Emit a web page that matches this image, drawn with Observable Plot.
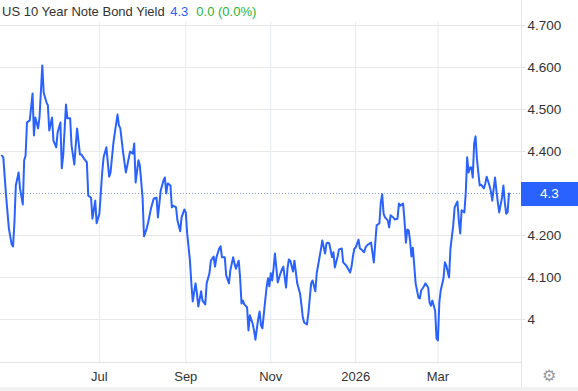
<!DOCTYPE html>
<html>
<head>
<meta charset="utf-8">
<script src="https://cdn.jsdelivr.net/npm/d3@7"></script>
<script src="https://cdn.jsdelivr.net/npm/@observablehq/plot@0.6"></script>
<style>
  html, body { margin: 0; padding: 0; background: #fff; }
  #wrap { position: relative; width: 578px; height: 391px; overflow: hidden; font-family: "Liberation Sans", Arial, Helvetica, sans-serif; }
  #title { position: absolute; left: 2px; top: 4px; font-size: 13px; line-height: 16px; color: #333; white-space: nowrap; z-index: 2; }
  #title .last { color: #2962ff; margin-left: 2px; }
  #title .chg { color: #27b533; margin-left: 8px; }
  #vsep { position: absolute; left: 521px; top: 0; width: 1px; height: 387px; background: #e6e6e6; }
  #band { position: absolute; left: 0; top: 387px; width: 578px; height: 4px; background: #f2f2f2; }
  #badge { position: absolute; left: 521px; width: 57px; height: 24px; background: #2962ff; color: #fff; font-size: 13.5px; line-height: 24px; text-align: center; }
  #gear { position: absolute; left: 542px; top: 366px; font-family: "DejaVu Sans", sans-serif; font-size: 16px; color: #9a9a9a; }
  svg { overflow: visible; }
</style>
</head>
<body>
<div id="wrap">
  <div id="chart"></div>
  <div id="vsep"></div>
  <div id="band"></div>
  <div id="title"></div>
  <div id="badge"></div>
  <div id="gear">⚙</div>
</div>
<script>
const seriesName = "US 10 Year Note Bond Yield";
const lastLabel = "4.3";
const changeLabel = "0.0 (0.0%)";

const dates = [
"2025-04-22","2025-04-23","2025-04-25","2025-04-27","2025-04-29","2025-04-30","2025-05-01","2025-05-02","2025-05-04","2025-05-05",
"2025-05-07","2025-05-08","2025-05-09","2025-05-10","2025-05-12","2025-05-14","2025-05-15","2025-05-16","2025-05-18","2025-05-19",
"2025-05-21","2025-05-22","2025-05-24","2025-05-25","2025-05-26","2025-05-28","2025-05-29","2025-05-31","2025-06-01","2025-06-03",
"2025-06-04","2025-06-05","2025-06-07","2025-06-08","2025-06-10","2025-06-11","2025-06-13","2025-06-14","2025-06-15","2025-06-17",
"2025-06-18","2025-06-20","2025-06-22","2025-06-23","2025-06-25","2025-06-26","2025-06-28","2025-06-29","2025-07-01","2025-07-03",
"2025-07-04","2025-07-06","2025-07-08","2025-07-09","2025-07-11","2025-07-12","2025-07-14","2025-07-15","2025-07-16","2025-07-18",
"2025-07-20","2025-07-22","2025-07-23","2025-07-25","2025-07-26","2025-07-27","2025-07-29","2025-07-30","2025-08-01","2025-08-02",
"2025-08-04","2025-08-05","2025-08-07","2025-08-09","2025-08-11","2025-08-12","2025-08-14","2025-08-16","2025-08-17","2025-08-18",
"2025-08-19","2025-08-21","2025-08-22","2025-08-23","2025-08-25","2025-08-26","2025-08-28","2025-08-29","2025-08-31","2025-09-01",
"2025-09-02","2025-09-04","2025-09-05","2025-09-06","2025-09-08","2025-09-09","2025-09-10","2025-09-12","2025-09-13","2025-09-15",
"2025-09-16","2025-09-18","2025-09-19","2025-09-21","2025-09-22","2025-09-23","2025-09-25","2025-09-26","2025-09-27","2025-09-29",
"2025-09-30","2025-10-02","2025-10-03","2025-10-05","2025-10-06","2025-10-07","2025-10-09","2025-10-10","2025-10-11","2025-10-12",
"2025-10-13","2025-10-15","2025-10-16","2025-10-17","2025-10-19","2025-10-20","2025-10-21","2025-10-23","2025-10-24","2025-10-25",
"2025-10-26","2025-10-28","2025-10-29","2025-10-30","2025-10-31","2025-11-01","2025-11-02","2025-11-03","2025-11-04","2025-11-05",
"2025-11-06","2025-11-08","2025-11-09","2025-11-10","2025-11-12","2025-11-13","2025-11-14","2025-11-15","2025-11-17","2025-11-18",
"2025-11-20","2025-11-22","2025-11-23","2025-11-24","2025-11-25","2025-11-27","2025-11-28","2025-11-30","2025-12-01","2025-12-03",
"2025-12-04","2025-12-06","2025-12-07","2025-12-08","2025-12-10","2025-12-11","2025-12-12","2025-12-13","2025-12-15","2025-12-16",
"2025-12-17","2025-12-19","2025-12-20","2025-12-22","2025-12-23","2025-12-25","2025-12-26","2025-12-28","2025-12-29","2025-12-30",
"2025-12-31","2026-01-01","2026-01-03","2026-01-04","2026-01-05","2026-01-07","2026-01-08","2026-01-09","2026-01-11","2026-01-12",
"2026-01-14","2026-01-15","2026-01-16","2026-01-18","2026-01-19","2026-01-20","2026-01-21","2026-01-22","2026-01-24","2026-01-25",
"2026-01-26","2026-01-28","2026-01-29","2026-01-31","2026-02-01","2026-02-02","2026-02-04","2026-02-05","2026-02-06","2026-02-07",
"2026-02-08","2026-02-09","2026-02-10","2026-02-11","2026-02-12","2026-02-13","2026-02-15","2026-02-16","2026-02-17","2026-02-19",
"2026-02-20","2026-02-22","2026-02-23","2026-02-24","2026-02-25","2026-02-27","2026-02-28","2026-03-01","2026-03-02","2026-03-03",
"2026-03-05","2026-03-06","2026-03-07","2026-03-09","2026-03-10","2026-03-12","2026-03-13","2026-03-15","2026-03-16","2026-03-17",
"2026-03-18","2026-03-20","2026-03-21","2026-03-22","2026-03-23","2026-03-24","2026-03-25","2026-03-26","2026-03-27","2026-03-28",
"2026-03-29","2026-03-30","2026-03-31","2026-04-01","2026-04-03","2026-04-04","2026-04-05","2026-04-07","2026-04-08","2026-04-09",
"2026-04-11","2026-04-12","2026-04-13","2026-04-14","2026-04-16","2026-04-17","2026-04-18","2026-04-19","2026-04-20","2026-04-21"
];

const yields = [
4.390,4.386,4.295,4.217,4.179,4.174,4.231,4.319,4.350,4.312,
4.274,4.379,4.390,4.469,4.474,4.538,4.438,4.481,4.455,4.481,
4.605,4.540,4.517,4.510,4.450,4.481,4.426,4.410,4.445,4.469,
4.360,4.390,4.512,4.479,4.479,4.414,4.369,4.414,4.455,4.393,
4.393,4.383,4.374,4.295,4.290,4.240,4.283,4.229,4.252,4.350,
4.386,4.410,4.340,4.350,4.419,4.443,4.488,4.462,4.455,4.398,
4.350,4.383,4.400,4.395,4.419,4.326,4.379,4.367,4.290,4.198,
4.217,4.231,4.264,4.288,4.290,4.243,4.307,4.331,4.338,4.300,
4.324,4.319,4.267,4.271,4.267,4.236,4.210,4.243,4.262,4.255,
4.205,4.140,4.086,4.043,4.086,4.062,4.031,4.067,4.045,4.036,
4.086,4.110,4.140,4.150,4.126,4.148,4.169,4.174,4.148,4.148,
4.105,4.086,4.117,4.148,4.133,4.121,4.140,4.100,4.038,4.045,
4.036,4.029,3.974,4.010,3.990,3.974,3.952,4.002,4.019,3.986,
3.979,4.045,4.076,4.098,4.079,4.110,4.093,4.121,4.157,4.124,
4.088,4.110,4.119,4.126,4.076,4.121,4.143,4.140,4.114,4.140,
4.086,4.062,4.036,4.005,3.993,3.988,4.014,4.086,4.093,4.067,
4.110,4.148,4.167,4.188,4.157,4.181,4.183,4.181,4.148,4.160,
4.124,4.150,4.167,4.169,4.136,4.129,4.124,4.112,4.126,4.150,
4.169,4.171,4.190,4.169,4.167,4.160,4.171,4.176,4.181,4.183,
4.136,4.181,4.224,4.229,4.279,4.298,4.252,4.243,4.236,4.219,
4.248,4.243,4.238,4.240,4.276,4.271,4.276,4.236,4.183,4.214,
4.212,4.188,4.150,4.171,4.129,4.086,4.052,4.050,4.069,4.079,
4.086,4.076,4.040,4.033,4.045,4.021,3.955,3.950,4.040,4.069,
4.098,4.136,4.129,4.100,4.169,4.224,4.267,4.281,4.236,4.205,
4.260,4.255,4.302,4.386,4.350,4.362,4.362,4.338,4.419,4.436,
4.383,4.350,4.319,4.321,4.312,4.324,4.340,4.319,4.305,4.283,
4.338,4.307,4.279,4.255,4.290,4.319,4.279,4.252,4.255,4.300
];

const lastValue = 4.3;
const xDomain = ["2025-04-21", "2026-04-30"];
const yDomain = [3.8976, 4.7071];
const xTickDates = ["2025-07-01", "2025-09-01", "2025-11-01", "2026-01-01", "2026-03-01"];
const xTickLabels = ["Jul", "Sep", "Nov", "2026", "Mar"];
const yTicks = [4.7, 4.6, 4.5, 4.4, 4.2, 4.1, 4.0];
const yTickLabels = ["4.700", "4.600", "4.500", "4.400", "4.200", "4.100", "4"];

const data = dates.map((d, i) => ({ date: new Date(d), value: yields[i] }));
const xt = xTickDates.map(d => new Date(d));

const blue = "#2962ff";

const chart = Plot.plot({
  width: 578,
  height: 387,
  marginTop: 22,
  marginBottom: 25,
  marginLeft: 0,
  marginRight: 57,
  style: { fontFamily: '"Liberation Sans", Arial, Helvetica, sans-serif', background: "transparent", overflow: "visible" },
  x: { type: "utc", domain: xDomain.map(d => new Date(d)) },
  y: { domain: yDomain },
  marks: [
    Plot.gridX(xt, { stroke: "#e4ebf0", strokeOpacity: 1 }),
    Plot.gridY(yTicks, { stroke: "#e8e8e8", strokeOpacity: 1 }),
    Plot.frame({ anchor: "bottom", stroke: "#e2e2e2" }),
    Plot.axisY(yTicks, {
      anchor: "right", tickSize: 3, tickPadding: 3, stroke: "#e2e2e2", fill: "#333",
      fontSize: 13.5, label: null,
      tickFormat: d => yTickLabels[yTicks.indexOf(d)]
    }),
    Plot.axisX(xt, {
      anchor: "bottom", tickSize: 0, tickPadding: 9, fill: "#333", fontSize: 13, label: null,
      tickFormat: d => xTickLabels[xt.findIndex(t => +t === +d)]
    }),
    Plot.ruleY([lastValue], { stroke: "#6f93ff", strokeOpacity: 0.9, strokeWidth: 1, strokeDasharray: "1,2" }),
    Plot.line(data, { x: "date", y: "value", stroke: blue, strokeWidth: 2, strokeLinejoin: "round" })
  ]
});
document.getElementById("chart").appendChild(chart);

document.getElementById("title").innerHTML =
  seriesName + ' <span class="last">' + lastLabel + '</span><span class="chg">' + changeLabel + '</span>';

const yPos = chart.scale("y").apply(lastValue);
const badge = document.getElementById("badge");
badge.textContent = lastLabel;
badge.style.top = (yPos - 11) + "px";
</script>
</body>
</html>
